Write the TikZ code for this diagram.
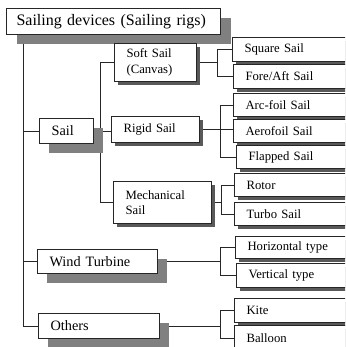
\documentclass[tikz,border=0pt]{standalone}
\usepackage{fontspec}
\setmainfont{Liberation Serif}
\usetikzlibrary{shadows,backgrounds}

\begin{document}
\begin{tikzpicture}[x=1pt, y=-1pt,
  box/.style={draw=black!85, line width=1.1pt, fill=white, anchor=north west,
    inner xsep=12pt, inner ysep=0pt, align=left},
  rootbox/.style={box, inner xsep=10pt, font=\fontsize{16}{19}\selectfont,
    drop shadow={shadow xshift=10pt, shadow yshift=-9pt, fill=black!50, opacity=1}},
  mainbox/.style={box, font=\fontsize{14.3}{16}\selectfont,
    drop shadow={shadow xshift=9pt, shadow yshift=-9pt, fill=black!50, opacity=1}},
  subbox/.style={box, font=\fontsize{12.7}{15.5}\selectfont,
    drop shadow={shadow xshift=3pt, shadow yshift=-3pt, fill=black!65, opacity=1}},
  leafbox/.style={subbox, text width=101pt},
  link/.style={draw=black!85, line width=0.9pt}]
  \clip (0,0) rectangle (345,347);

  % ---- top and first level
  \node[rootbox, text width=194pt, minimum height=26pt] (rigs) at (6,8) {Sailing devices (Sailing rigs)};
  \node[mainbox, text width=30pt, minimum height=25pt] (sail) at (39,118) {Sail};
  \node[mainbox, text width=96pt, minimum height=24pt] (wind) at (37,249) {Wind Turbine};
  \node[mainbox, text width=97pt, minimum height=25pt] (others) at (38,313) {Others};

  % ---- kinds of sail
  \node[subbox, text width=58pt, minimum height=38pt] (soft) at (114,43) {Soft Sail\\(Canvas)};
  \node[subbox, text width=64pt, minimum height=26pt] (rigid) at (111,116) {Rigid Sail};
  \node[subbox, text width=74pt, minimum height=42pt] (mech) at (113,181) {Mechanical\\Sail};

  % ---- leaves
  \node[leafbox, minimum height=24pt] (square) at (232,37) {Square Sail};
  \node[leafbox, minimum height=24pt] (foreaft) at (233,64) {Fore/Aft Sail};
  \node[leafbox, minimum height=23pt] (arcfoil) at (233,93) {Arc-foil Sail};
  \node[leafbox, minimum height=23pt] (aero) at (233,119) {Aerofoil Sail};
  \node[leafbox, minimum height=23pt] (flapped) at (236,145) {Flapped Sail};
  \node[leafbox, minimum height=23pt] (rotor) at (234,173) {Rotor};
  \node[leafbox, minimum height=23pt] (turbo) at (234,202) {Turbo Sail};
  \node[leafbox, minimum height=22pt] (horiz) at (235,236) {Horizontal type};
  \node[leafbox, minimum height=24pt] (vert) at (236,263) {Vertical type};
  \node[leafbox, minimum height=24pt] (kite) at (234,298) {Kite};
  \node[leafbox, minimum height=25pt] (balloon) at (234,325) {Balloon};

  % ---- connectors
  \begin{pgfonlayer}{background}
    \coordinate (trunk) at (23,34);
    \draw[link] (trunk) |- (others.west);
    \draw[link] (trunk |- sail.west) -- (sail.west);
    \draw[link] (trunk |- wind.west) -- (wind.west);

    \coordinate (sailbus) at (100,0);
    \draw[link] (sail.east) -- (sail.east -| rigid.west);
    \draw[link] (sailbus |- soft.west) -- (soft.west);
    \draw[link] (sailbus |- soft.west) |- (mech.west);

    \coordinate (softbus) at (217,0);
    \draw[link] (soft.east) -- (soft.east -| softbus);
    \draw[link] (softbus |- square.west) -- (square.west);
    \draw[link] (softbus |- square.west) |- (foreaft.west);

    \coordinate (rigidbus) at (220,0);
    \draw[link] (rigid.east) -- (rigid.east -| aero.west);
    \draw[link] (rigidbus |- arcfoil.west) -- (arcfoil.west);
    \draw[link] (rigidbus |- arcfoil.west) |- (flapped.west);

    \coordinate (mechbus) at (221,0);
    \draw[link] (mech.east) -- (mech.east -| mechbus);
    \draw[link] (mechbus |- rotor.west) -- (rotor.west);
    \draw[link] (mechbus |- rotor.west) |- (turbo.west);

    \coordinate (windbus) at (220,0);
    \draw[link] (wind.east) -- (wind.east -| windbus);
    \draw[link] (windbus |- horiz.west) -- (horiz.west);
    \draw[link] (windbus |- horiz.west) |- (vert.west);

    \coordinate (othersbus) at (220,0);
    \draw[link] (others.east) -- (others.east -| othersbus);
    \draw[link] (othersbus |- kite.west) -- (kite.west);
    \draw[link] (othersbus |- kite.west) |- (balloon.west);
  \end{pgfonlayer}
\end{tikzpicture}
\end{document}
